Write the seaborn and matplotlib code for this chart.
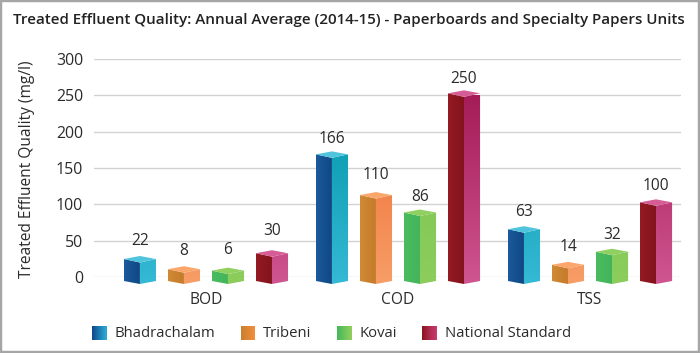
import numpy as np
import pandas as pd
import matplotlib
matplotlib.use("Agg")
import matplotlib.pyplot as plt
import seaborn as sns
from matplotlib.colors import to_rgb
from matplotlib.legend_handler import HandlerBase
from matplotlib.patches import Patch, Polygon, Rectangle

# Values
parameters = ["BOD", "COD", "TSS"]
units = ["Bhadrachalam", "Tribeni", "Kovai", "National Standard"]
bhadrachalam = [22, 166, 63]
tribeni = [8, 110, 14]
kovai = [6, 86, 32]
national_standard = [30, 250, 100]

# left face (outer, inner), right face (bottom, top), top face
face_colors = {
    "Bhadrachalam": ("#1a5a9c", "#0f4682", "#35b9d4", "#0095a8", "#4fc4dc"),
    "Tribeni": ("#d08a35", "#c47a2a", "#f79d66", "#ee6a32", "#fba76c"),
    "Kovai": ("#4abb5f", "#42b45a", "#8ccd5c", "#78c552", "#8fd060"),
    "National Standard": ("#941a24", "#82131c", "#cf5590", "#a51c58", "#d65c95"),
}
swatch_colors = {
    "Bhadrachalam": ("#0f4a8c", "#2aa6cf"),
    "Tribeni": ("#c9802e", "#f28d3a"),
    "Kovai": ("#45b85c", "#8ccd5c"),
    "National Standard": ("#8a1520", "#c83a70"),
}
# label padding per bar, the original labels are not evenly spaced above the boxes
label_pads = {
    "Bhadrachalam": [8.8, 7, 8.3],
    "Tribeni": [8.8, 10.4, 8.3],
    "Kovai": [10.7, 7, 7.5],
    "National Standard": [12, 6, 7.5],
}

df = pd.DataFrame({
    "parameter": parameters * 4,
    "unit": [u for u in units for _ in parameters],
    "value": bhadrachalam + tribeni + kovai + national_standard,
})

sns.set_theme(style="white")
plt.rcParams["font.family"] = ["Open Sans", "DejaVu Sans"]
text_color = "#2b2b2b"

fig = plt.figure(figsize=(7, 3.53), dpi=100, facecolor="white")
ax = fig.add_axes([94 / 700, 1 - 277 / 353, 587 / 700, 218 / 353])

sns.barplot(data=df, x="parameter", y="value", hue="unit", order=parameters,
            hue_order=units, width=0.917, gap=0.27, legend=False, ax=ax)

ax.set_xlim(-0.583, 2.474)
ax.set_ylim(0, 300)
px = 300 / 218  # one pixel in data units, y direction
ax.set_yticks(range(0, 301, 50))
ax.grid(axis="y", color="#d2d2d2", lw=1)
ax.set_axisbelow(True)
sns.despine(ax=ax, left=True, bottom=True)
ax.tick_params(axis="y", length=0, labelsize=11.4, labelcolor=text_color, pad=8)
ax.tick_params(axis="x", length=0, labelsize=11.2, labelcolor=text_color, pad=11)
ax.set_xlabel("")
ax.set_ylabel("Treated Effluent Quality (mg/l)", fontsize=11.2, color=text_color)
ax.yaxis.set_label_coords((35 - 94) / 587, 0.495, transform=ax.transAxes)


def gradient_image(c0, c1, horizontal):
    t = np.linspace(0, 1, 64)
    rgb = np.outer(1 - t, to_rgb(c0)) + np.outer(t, to_rgb(c1))
    return rgb[np.newaxis, :, :] if horizontal else rgb[:, np.newaxis, :]


def draw_face(points, image, extent):
    clip = Polygon(points, closed=True, transform=ax.transData)
    im = ax.imshow(image, extent=extent, aspect="auto", origin="lower",
                   interpolation="bilinear", zorder=3)
    im.set_clip_box(fig.bbox)
    im.set_clip_path(clip)


# The bars come from seaborn, the box faces are built on each bar's geometry
for unit, container in zip(units, ax.containers):
    left_a, left_b, right_bottom, right_top, top_color = face_colors[unit]
    for bar, pad in zip(container, label_pads[unit]):
        x0 = bar.get_x()
        w = bar.get_width()
        xm = x0 + w / 2
        x1 = x0 + w
        h = bar.get_height()
        ax.annotate(f"{h:.0f}", (xm, h), xytext=(0, pad), textcoords="offset points",
                    ha="center", va="bottom", fontsize=11.2, color=text_color)
        bar.set_visible(False)
        corner = h + 2 * px
        front = h - 1.5 * px
        apex = h + 5 * px
        base_corner = -4 * px
        base_front = -7 * px
        draw_face([(x0, corner), (xm, front), (xm, base_front), (x0, base_corner)],
                  gradient_image(left_a, left_b, True),
                  (x0, xm, base_front, corner))
        draw_face([(xm, front), (x1, corner), (x1, base_corner), (xm, base_front)],
                  gradient_image(right_bottom, right_top, False),
                  (xm, x1, base_front, 250))
        ax.add_patch(Polygon([(x0, corner), (xm, apex), (x1, corner), (xm, front)],
                             closed=True, fc=top_color, ec="none", zorder=4, clip_on=False))
ax.set_xlim(-0.583, 2.474)
ax.set_ylim(0, 300)


class GradientSwatch(HandlerBase):
    def create_artists(self, legend, orig_handle, xdescent, ydescent, width, height, fontsize, trans):
        c0, c1 = swatch_colors[orig_handle.get_label()]
        strips = []
        n = 14
        for i in range(n):
            t = i / (n - 1)
            color = (1 - t) * np.array(to_rgb(c0)) + t * np.array(to_rgb(c1))
            strips.append(Rectangle((-xdescent + i * width / n, -ydescent - 1), width / n + 0.2, height + 1,
                                    fc=color, ec="none", transform=trans))
        return strips


handles = [Patch(label=u) for u in units]
leg = ax.legend(handles=handles, handler_map={Patch: GradientSwatch()}, ncols=4, frameon=False,
                loc="center left", bbox_to_anchor=(-2 / 587, -56.5 / 218), bbox_transform=ax.transAxes,
                fontsize=10.7, labelcolor=text_color, handlelength=0.97, handleheight=1.0,
                handletextpad=0.55, columnspacing=1.7, borderaxespad=0, borderpad=0)

fig.text(13 / 700, 1 - 20 / 353, "Treated Effluent Quality: Annual Average (2014-15) - Paperboards and Specialty Papers Units",
         fontsize=10.9, fontweight="semibold", color="#222222", ha="left", va="center")

fig.add_artist(Rectangle((0, 0), 1, 1, transform=fig.transFigure, fill=False, ec="#a6a6a6", lw=3.2))

fig.savefig("out.png", dpi=100)
